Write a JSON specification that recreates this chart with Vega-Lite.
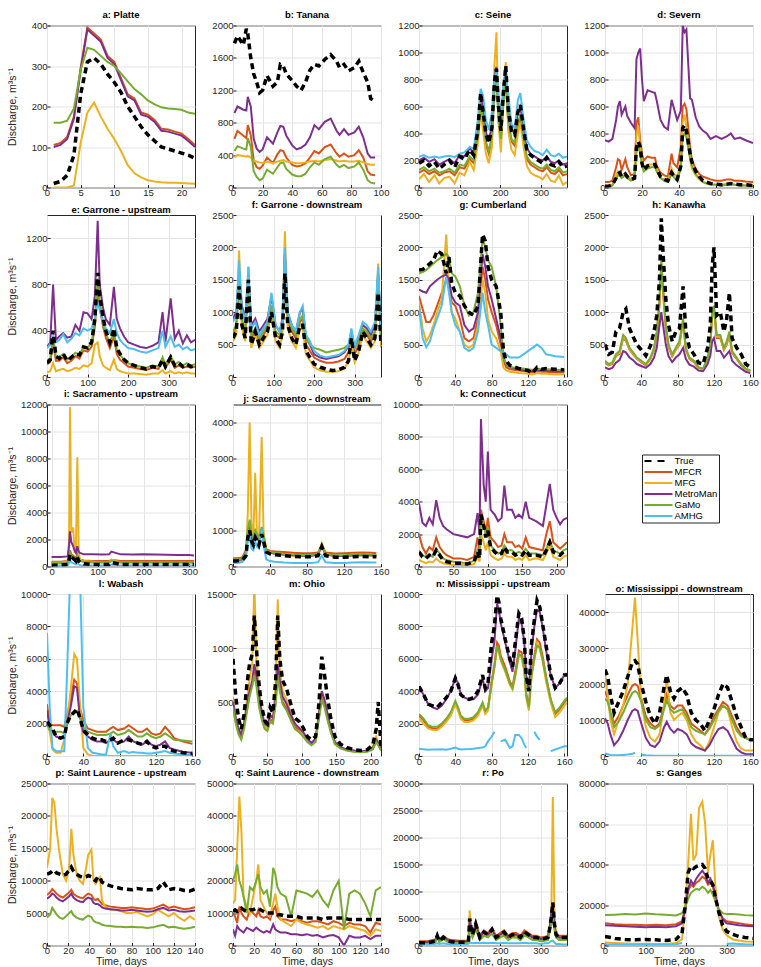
{
  "$schema": "https://vega.github.io/schema/vega-lite/v6.json",
  "padding": {"left": 6, "top": 9.5, "right": 4, "bottom": 2},
  "background": "white",
  "data": {"values": [
    {"p":"a","t":1,"T":10,"C":105,"G":0,"M":100,"O":160},
    {"p":"a","t":2,"T":15,"C":110,"G":0,"M":105,"O":160},
    {"p":"a","t":3,"T":30,"C":125,"G":0,"M":120,"O":165},
    {"p":"a","t":4,"T":80,"C":175,"G":5,"M":170,"O":195},
    {"p":"a","t":5,"T":230,"C":295,"G":110,"M":290,"O":290},
    {"p":"a","t":6,"T":310,"C":395,"G":185,"M":390,"O":345},
    {"p":"a","t":7,"T":320,"C":380,"G":210,"M":375,"O":340},
    {"p":"a","t":8,"T":305,"C":365,"G":175,"M":360,"O":325},
    {"p":"a","t":9,"T":280,"C":325,"G":145,"M":320,"O":310},
    {"p":"a","t":10,"T":260,"C":310,"G":120,"M":305,"O":300},
    {"p":"a","t":11,"T":235,"C":270,"G":90,"M":265,"O":282},
    {"p":"a","t":12,"T":200,"C":230,"G":55,"M":225,"O":262},
    {"p":"a","t":13,"T":175,"C":220,"G":35,"M":215,"O":243},
    {"p":"a","t":14,"T":150,"C":185,"G":25,"M":180,"O":230},
    {"p":"a","t":15,"T":130,"C":180,"G":18,"M":175,"O":215},
    {"p":"a","t":16,"T":115,"C":167,"G":15,"M":162,"O":205},
    {"p":"a","t":17,"T":100,"C":145,"G":13,"M":140,"O":198},
    {"p":"a","t":18,"T":95,"C":143,"G":12,"M":138,"O":195},
    {"p":"a","t":19,"T":90,"C":138,"G":12,"M":133,"O":194},
    {"p":"a","t":20,"T":85,"C":133,"G":11,"M":128,"O":192},
    {"p":"a","t":21,"T":80,"C":120,"G":10,"M":115,"O":185},
    {"p":"a","t":22,"T":72,"C":105,"G":9,"M":100,"O":182},

    {"p":"b","t":1,"T":1780,"C":600,"G":370,"M":920,"O":450},
    {"p":"b","t":3,"T":1870,"C":700,"G":400,"M":1000,"O":510},
    {"p":"b","t":7,"T":1760,"C":640,"G":390,"M":960,"O":480},
    {"p":"b","t":9,"T":1960,"C":610,"G":380,"M":950,"O":470},
    {"p":"b","t":10,"T":1900,"C":770,"G":390,"M":1120,"O":610},
    {"p":"b","t":12,"T":1600,"C":650,"G":370,"M":1000,"O":500},
    {"p":"b","t":14,"T":1400,"C":330,"G":330,"M":600,"O":200},
    {"p":"b","t":16,"T":1300,"C":250,"G":320,"M":480,"O":130},
    {"p":"b","t":18,"T":1170,"C":230,"G":310,"M":440,"O":90},
    {"p":"b","t":20,"T":1200,"C":270,"G":300,"M":470,"O":110},
    {"p":"b","t":23,"T":1380,"C":370,"G":320,"M":620,"O":220},
    {"p":"b","t":27,"T":1250,"C":300,"G":300,"M":540,"O":170},
    {"p":"b","t":30,"T":1300,"C":410,"G":320,"M":680,"O":250},
    {"p":"b","t":32,"T":1520,"C":460,"G":330,"M":760,"O":300},
    {"p":"b","t":34,"T":1500,"C":450,"G":340,"M":750,"O":310},
    {"p":"b","t":36,"T":1400,"C":370,"G":320,"M":640,"O":230},
    {"p":"b","t":40,"T":1320,"C":280,"G":310,"M":520,"O":160},
    {"p":"b","t":43,"T":1250,"C":260,"G":300,"M":470,"O":140},
    {"p":"b","t":46,"T":1200,"C":270,"G":300,"M":490,"O":140},
    {"p":"b","t":49,"T":1300,"C":300,"G":310,"M":530,"O":170},
    {"p":"b","t":52,"T":1450,"C":370,"G":320,"M":620,"O":250},
    {"p":"b","t":55,"T":1520,"C":450,"G":330,"M":770,"O":310},
    {"p":"b","t":58,"T":1500,"C":420,"G":320,"M":720,"O":280},
    {"p":"b","t":62,"T":1580,"C":500,"G":340,"M":810,"O":350},
    {"p":"b","t":66,"T":1640,"C":530,"G":350,"M":850,"O":380},
    {"p":"b","t":70,"T":1560,"C":420,"G":330,"M":700,"O":280},
    {"p":"b","t":72,"T":1480,"C":380,"G":320,"M":650,"O":250},
    {"p":"b","t":75,"T":1520,"C":420,"G":330,"M":720,"O":280},
    {"p":"b","t":78,"T":1440,"C":380,"G":320,"M":650,"O":240},
    {"p":"b","t":82,"T":1480,"C":400,"G":320,"M":680,"O":260},
    {"p":"b","t":85,"T":1560,"C":460,"G":330,"M":750,"O":310},
    {"p":"b","t":88,"T":1420,"C":370,"G":310,"M":620,"O":220},
    {"p":"b","t":91,"T":1300,"C":200,"G":290,"M":420,"O":90},
    {"p":"b","t":93,"T":1100,"C":160,"G":280,"M":370,"O":60},
    {"p":"b","t":96,"T":1060,"C":150,"G":280,"M":370,"O":50},

    {"p":"c","t":0,"T":180,"C":110,"G":60,"M":200,"O":130,"A":230},
    {"p":"c","t":12,"T":200,"C":130,"G":100,"M":220,"O":150,"A":240},
    {"p":"c","t":25,"T":160,"C":100,"G":40,"M":190,"O":120,"A":220},
    {"p":"c","t":38,"T":190,"C":120,"G":90,"M":210,"O":140,"A":230},
    {"p":"c","t":50,"T":140,"C":90,"G":30,"M":170,"O":110,"A":220},
    {"p":"c","t":62,"T":170,"C":110,"G":70,"M":190,"O":120,"A":230},
    {"p":"c","t":75,"T":200,"C":120,"G":80,"M":210,"O":140,"A":235},
    {"p":"c","t":88,"T":150,"C":90,"G":30,"M":180,"O":110,"A":225},
    {"p":"c","t":100,"T":230,"C":150,"G":110,"M":240,"O":170,"A":250},
    {"p":"c","t":112,"T":210,"C":140,"G":90,"M":230,"O":160,"A":260},
    {"p":"c","t":125,"T":280,"C":210,"G":190,"M":290,"O":230,"A":300},
    {"p":"c","t":135,"T":240,"C":180,"G":130,"M":260,"O":200,"A":290},
    {"p":"c","t":145,"T":420,"C":360,"G":320,"M":440,"O":380,"A":500},
    {"p":"c","t":152,"T":700,"C":600,"G":560,"M":700,"O":620,"A":730},
    {"p":"c","t":158,"T":560,"C":480,"G":420,"M":580,"O":500,"A":680},
    {"p":"c","t":165,"T":400,"C":320,"G":250,"M":410,"O":340,"A":500},
    {"p":"c","t":172,"T":330,"C":250,"G":180,"M":340,"O":270,"A":430},
    {"p":"c","t":180,"T":450,"C":360,"G":300,"M":460,"O":380,"A":560},
    {"p":"c","t":186,"T":780,"C":780,"G":900,"M":820,"O":700,"A":800},
    {"p":"c","t":191,"T":880,"C":900,"G":1150,"M":890,"O":780,"A":870},
    {"p":"c","t":196,"T":600,"C":500,"G":480,"M":620,"O":520,"A":700},
    {"p":"c","t":202,"T":420,"C":340,"G":260,"M":430,"O":360,"A":540},
    {"p":"c","t":208,"T":700,"C":650,"G":700,"M":700,"O":620,"A":760},
    {"p":"c","t":214,"T":900,"C":820,"G":930,"M":900,"O":800,"A":850},
    {"p":"c","t":220,"T":580,"C":480,"G":420,"M":600,"O":500,"A":700},
    {"p":"c","t":228,"T":420,"C":340,"G":280,"M":430,"O":360,"A":470},
    {"p":"c","t":236,"T":390,"C":310,"G":240,"M":400,"O":330,"A":440},
    {"p":"c","t":244,"T":560,"C":460,"G":400,"M":560,"O":480,"A":650},
    {"p":"c","t":250,"T":610,"C":520,"G":480,"M":600,"O":540,"A":700},
    {"p":"c","t":258,"T":430,"C":350,"G":300,"M":430,"O":370,"A":500},
    {"p":"c","t":266,"T":280,"C":210,"G":160,"M":290,"O":230,"A":350},
    {"p":"c","t":275,"T":240,"C":170,"G":110,"M":250,"O":190,"A":300},
    {"p":"c","t":285,"T":220,"C":150,"G":90,"M":230,"O":170,"A":270},
    {"p":"c","t":295,"T":200,"C":130,"G":80,"M":210,"O":150,"A":260},
    {"p":"c","t":305,"T":180,"C":120,"G":60,"M":200,"O":140,"A":240},
    {"p":"c","t":315,"T":220,"C":150,"G":100,"M":230,"O":170,"A":280},
    {"p":"c","t":325,"T":170,"C":110,"G":50,"M":190,"O":130,"A":240},
    {"p":"c","t":335,"T":160,"C":100,"G":40,"M":180,"O":120,"A":230},
    {"p":"c","t":345,"T":190,"C":130,"G":90,"M":200,"O":150,"A":250},
    {"p":"c","t":355,"T":150,"C":90,"G":20,"M":170,"O":110,"A":220},
    {"p":"c","t":365,"T":160,"C":100,"G":40,"M":180,"O":120,"A":230},

    {"p":"d","t":0,"T":10,"C":40,"G":10,"M":350,"O":5},
    {"p":"d","t":2,"T":10,"C":40,"G":10,"M":340,"O":5},
    {"p":"d","t":4,"T":20,"C":50,"G":20,"M":360,"O":15},
    {"p":"d","t":6,"T":70,"C":150,"G":90,"M":500,"O":60},
    {"p":"d","t":7,"T":100,"C":210,"G":120,"M":600,"O":90},
    {"p":"d","t":8,"T":110,"C":200,"G":110,"M":640,"O":90},
    {"p":"d","t":9,"T":80,"C":130,"G":80,"M":540,"O":70},
    {"p":"d","t":11,"T":100,"C":210,"G":110,"M":600,"O":90},
    {"p":"d","t":12,"T":80,"C":150,"G":90,"M":530,"O":70},
    {"p":"d","t":14,"T":60,"C":90,"G":60,"M":480,"O":50},
    {"p":"d","t":16,"T":70,"C":100,"G":70,"M":440,"O":60},
    {"p":"d","t":17,"T":300,"C":480,"G":380,"M":950,"O":260},
    {"p":"d","t":18,"T":340,"C":520,"G":460,"M":1000,"O":300},
    {"p":"d","t":19,"T":300,"C":350,"G":300,"M":1030,"O":260},
    {"p":"d","t":20,"T":180,"C":250,"G":190,"M":800,"O":160},
    {"p":"d","t":21,"T":130,"C":200,"G":150,"M":640,"O":120},
    {"p":"d","t":23,"T":160,"C":230,"G":170,"M":720,"O":140},
    {"p":"d","t":25,"T":170,"C":220,"G":170,"M":710,"O":150},
    {"p":"d","t":27,"T":170,"C":220,"G":170,"M":700,"O":150},
    {"p":"d","t":28,"T":140,"C":160,"G":120,"M":640,"O":120},
    {"p":"d","t":30,"T":80,"C":110,"G":70,"M":500,"O":70},
    {"p":"d","t":32,"T":60,"C":90,"G":60,"M":450,"O":50},
    {"p":"d","t":34,"T":50,"C":80,"G":50,"M":430,"O":40},
    {"p":"d","t":36,"T":110,"C":250,"G":140,"M":650,"O":100},
    {"p":"d","t":37,"T":90,"C":180,"G":100,"M":600,"O":80},
    {"p":"d","t":39,"T":60,"C":150,"G":80,"M":500,"O":50},
    {"p":"d","t":41,"T":160,"C":300,"G":180,"M":570,"O":140},
    {"p":"d","t":42,"T":440,"C":600,"G":480,"M":1200,"O":380},
    {"p":"d","t":43,"T":460,"C":620,"G":540,"M":1150,"O":400},
    {"p":"d","t":44,"T":420,"C":580,"G":450,"M":1170,"O":370},
    {"p":"d","t":46,"T":250,"C":300,"G":200,"M":660,"O":220},
    {"p":"d","t":47,"T":190,"C":200,"G":140,"M":650,"O":160},
    {"p":"d","t":49,"T":120,"C":140,"G":90,"M":520,"O":100},
    {"p":"d","t":51,"T":80,"C":100,"G":60,"M":450,"O":70},
    {"p":"d","t":53,"T":50,"C":80,"G":40,"M":420,"O":40},
    {"p":"d","t":55,"T":40,"C":70,"G":30,"M":400,"O":30},
    {"p":"d","t":57,"T":30,"C":60,"G":20,"M":360,"O":25},
    {"p":"d","t":60,"T":25,"C":50,"G":20,"M":380,"O":20},
    {"p":"d","t":63,"T":20,"C":50,"G":20,"M":360,"O":15},
    {"p":"d","t":66,"T":25,"C":60,"G":30,"M":380,"O":20},
    {"p":"d","t":68,"T":30,"C":60,"G":30,"M":400,"O":25},
    {"p":"d","t":70,"T":25,"C":50,"G":20,"M":360,"O":20},
    {"p":"d","t":73,"T":20,"C":50,"G":20,"M":370,"O":15},
    {"p":"d","t":76,"T":20,"C":45,"G":15,"M":350,"O":15},
    {"p":"d","t":80,"T":15,"C":40,"G":15,"M":330,"O":10},

    {"p":"e","t":0,"T":120,"C":110,"G":40,"M":260,"O":140,"A":250},
    {"p":"e","t":8,"T":150,"C":130,"G":50,"M":300,"O":160,"A":280},
    {"p":"e","t":15,"T":400,"C":300,"G":120,"M":800,"O":350,"A":350},
    {"p":"e","t":22,"T":180,"C":140,"G":50,"M":320,"O":170,"A":300},
    {"p":"e","t":30,"T":160,"C":140,"G":60,"M":350,"O":170,"A":320},
    {"p":"e","t":40,"T":200,"C":170,"G":70,"M":380,"O":200,"A":370},
    {"p":"e","t":50,"T":140,"C":120,"G":50,"M":340,"O":150,"A":300},
    {"p":"e","t":60,"T":170,"C":140,"G":60,"M":350,"O":170,"A":330},
    {"p":"e","t":70,"T":200,"C":180,"G":80,"M":450,"O":210,"A":380},
    {"p":"e","t":80,"T":190,"C":160,"G":70,"M":400,"O":190,"A":360},
    {"p":"e","t":90,"T":260,"C":230,"G":100,"M":560,"O":260,"A":420},
    {"p":"e","t":100,"T":250,"C":220,"G":90,"M":550,"O":250,"A":400},
    {"p":"e","t":110,"T":300,"C":260,"G":120,"M":500,"O":300,"A":420},
    {"p":"e","t":118,"T":500,"C":430,"G":280,"M":700,"O":480,"A":500},
    {"p":"e","t":125,"T":900,"C":780,"G":300,"M":1350,"O":850,"A":650},
    {"p":"e","t":130,"T":700,"C":600,"G":180,"M":800,"O":650,"A":580},
    {"p":"e","t":138,"T":520,"C":440,"G":100,"M":600,"O":480,"A":480},
    {"p":"e","t":145,"T":400,"C":340,"G":80,"M":500,"O":380,"A":420},
    {"p":"e","t":155,"T":300,"C":250,"G":60,"M":450,"O":290,"A":380},
    {"p":"e","t":165,"T":420,"C":350,"G":150,"M":780,"O":400,"A":500},
    {"p":"e","t":172,"T":250,"C":200,"G":70,"M":500,"O":240,"A":380},
    {"p":"e","t":180,"T":200,"C":150,"G":50,"M":420,"O":190,"A":320},
    {"p":"e","t":190,"T":150,"C":120,"G":40,"M":350,"O":150,"A":280},
    {"p":"e","t":200,"T":120,"C":90,"G":30,"M":300,"O":120,"A":250},
    {"p":"e","t":215,"T":100,"C":80,"G":30,"M":280,"O":100,"A":240},
    {"p":"e","t":230,"T":80,"C":70,"G":25,"M":260,"O":90,"A":220},
    {"p":"e","t":245,"T":70,"C":60,"G":20,"M":250,"O":80,"A":210},
    {"p":"e","t":260,"T":90,"C":80,"G":30,"M":270,"O":100,"A":230},
    {"p":"e","t":275,"T":80,"C":70,"G":30,"M":300,"O":90,"A":250},
    {"p":"e","t":285,"T":150,"C":140,"G":60,"M":560,"O":170,"A":400},
    {"p":"e","t":292,"T":90,"C":80,"G":30,"M":300,"O":100,"A":260},
    {"p":"e","t":305,"T":170,"C":150,"G":50,"M":680,"O":180,"A":350},
    {"p":"e","t":315,"T":100,"C":80,"G":30,"M":330,"O":110,"A":260},
    {"p":"e","t":325,"T":120,"C":100,"G":40,"M":400,"O":130,"A":280},
    {"p":"e","t":335,"T":90,"C":80,"G":30,"M":290,"O":100,"A":240},
    {"p":"e","t":345,"T":110,"C":90,"G":40,"M":360,"O":120,"A":260},
    {"p":"e","t":355,"T":90,"C":80,"G":30,"M":300,"O":100,"A":230},
    {"p":"e","t":365,"T":100,"C":90,"G":30,"M":320,"O":110,"A":240},

    {"p":"f","t":0,"T":600,"C":650,"G":550,"M":900,"O":700,"A":850},
    {"p":"f","t":8,"T":700,"C":750,"G":650,"M":1000,"O":800,"A":950},
    {"p":"f","t":15,"T":1400,"C":1450,"G":1950,"M":1600,"O":1500,"A":1800},
    {"p":"f","t":22,"T":800,"C":850,"G":750,"M":1100,"O":900,"A":1050},
    {"p":"f","t":30,"T":600,"C":650,"G":550,"M":900,"O":700,"A":850},
    {"p":"f","t":38,"T":1500,"C":1450,"G":1700,"M":1600,"O":1500,"A":1700},
    {"p":"f","t":45,"T":500,"C":600,"G":450,"M":800,"O":650,"A":750},
    {"p":"f","t":55,"T":700,"C":700,"G":650,"M":900,"O":750,"A":850},
    {"p":"f","t":65,"T":500,"C":550,"G":450,"M":700,"O":600,"A":650},
    {"p":"f","t":75,"T":600,"C":650,"G":550,"M":800,"O":700,"A":750},
    {"p":"f","t":85,"T":700,"C":750,"G":650,"M":900,"O":800,"A":850},
    {"p":"f","t":95,"T":1000,"C":1050,"G":1100,"M":1250,"O":1100,"A":1300},
    {"p":"f","t":105,"T":600,"C":650,"G":550,"M":800,"O":700,"A":800},
    {"p":"f","t":115,"T":500,"C":600,"G":450,"M":700,"O":650,"A":700},
    {"p":"f","t":122,"T":700,"C":750,"G":650,"M":900,"O":800,"A":850},
    {"p":"f","t":128,"T":1600,"C":1750,"G":2250,"M":1900,"O":1800,"A":2000},
    {"p":"f","t":135,"T":800,"C":850,"G":750,"M":1000,"O":900,"A":1000},
    {"p":"f","t":145,"T":600,"C":700,"G":550,"M":800,"O":750,"A":800},
    {"p":"f","t":155,"T":500,"C":600,"G":450,"M":700,"O":650,"A":700},
    {"p":"f","t":165,"T":800,"C":850,"G":750,"M":1000,"O":900,"A":1000},
    {"p":"f","t":172,"T":800,"C":900,"G":750,"M":1050,"O":950,"A":1100},
    {"p":"f","t":180,"T":400,"C":500,"G":350,"M":600,"O":600,"A":650},
    {"p":"f","t":190,"T":300,"C":400,"G":250,"M":500,"O":500,"A":550},
    {"p":"f","t":200,"T":200,"C":300,"G":150,"M":350,"O":450,"A":400},
    {"p":"f","t":215,"T":150,"C":250,"G":100,"M":300,"O":420,"A":330},
    {"p":"f","t":230,"T":120,"C":220,"G":80,"M":280,"O":380,"A":300},
    {"p":"f","t":245,"T":100,"C":220,"G":80,"M":300,"O":400,"A":320},
    {"p":"f","t":260,"T":110,"C":240,"G":90,"M":320,"O":420,"A":340},
    {"p":"f","t":275,"T":150,"C":280,"G":130,"M":380,"O":450,"A":400},
    {"p":"f","t":285,"T":250,"C":380,"G":250,"M":480,"O":500,"A":500},
    {"p":"f","t":292,"T":600,"C":620,"G":550,"M":700,"O":650,"A":750},
    {"p":"f","t":300,"T":250,"C":350,"G":230,"M":450,"O":450,"A":480},
    {"p":"f","t":310,"T":400,"C":500,"G":380,"M":600,"O":550,"A":650},
    {"p":"f","t":320,"T":700,"C":720,"G":650,"M":800,"O":750,"A":850},
    {"p":"f","t":330,"T":600,"C":650,"G":550,"M":750,"O":700,"A":800},
    {"p":"f","t":340,"T":500,"C":550,"G":450,"M":650,"O":600,"A":700},
    {"p":"f","t":350,"T":600,"C":650,"G":550,"M":800,"O":700,"A":850},
    {"p":"f","t":358,"T":1300,"C":1450,"G":1750,"M":1600,"O":1500,"A":1700},
    {"p":"f","t":365,"T":500,"C":600,"G":450,"M":700,"O":650,"A":750},

    {"p":"g","t":0,"T":1650,"C":1250,"G":1150,"M":1350,"O":1600,"A":1100},
    {"p":"g","t":4,"T":1660,"C":1050,"G":750,"M":1320,"O":1620,"A":600},
    {"p":"g","t":8,"T":1700,"C":850,"G":550,"M":1300,"O":1650,"A":460},
    {"p":"g","t":12,"T":1750,"C":850,"G":650,"M":1400,"O":1700,"A":550},
    {"p":"g","t":16,"T":1800,"C":950,"G":800,"M":1450,"O":1750,"A":750},
    {"p":"g","t":20,"T":1950,"C":1100,"G":1000,"M":1500,"O":1800,"A":900},
    {"p":"g","t":25,"T":1900,"C":1300,"G":1200,"M":1550,"O":1850,"A":1100},
    {"p":"g","t":30,"T":1600,"C":1500,"G":2200,"M":1580,"O":1900,"A":1550},
    {"p":"g","t":33,"T":1850,"C":1450,"G":1400,"M":1500,"O":1850,"A":1300},
    {"p":"g","t":36,"T":1450,"C":1150,"G":1000,"M":1250,"O":1600,"A":1000},
    {"p":"g","t":40,"T":1300,"C":1100,"G":900,"M":1150,"O":1550,"A":800},
    {"p":"g","t":45,"T":1250,"C":900,"G":700,"M":1100,"O":1400,"A":700},
    {"p":"g","t":50,"T":1100,"C":600,"G":500,"M":800,"O":1100,"A":450},
    {"p":"g","t":55,"T":1000,"C":550,"G":450,"M":700,"O":950,"A":400},
    {"p":"g","t":60,"T":950,"C":600,"G":500,"M":750,"O":1000,"A":450},
    {"p":"g","t":65,"T":1100,"C":900,"G":800,"M":1000,"O":1300,"A":700},
    {"p":"g","t":70,"T":2200,"C":1700,"G":1500,"M":1900,"O":2150,"A":1300},
    {"p":"g","t":73,"T":2100,"C":1500,"G":1300,"M":1700,"O":2000,"A":1000},
    {"p":"g","t":76,"T":1700,"C":1200,"G":900,"M":1400,"O":1800,"A":800},
    {"p":"g","t":80,"T":1500,"C":1000,"G":700,"M":1200,"O":1700,"A":500},
    {"p":"g","t":85,"T":1400,"C":800,"G":600,"M":900,"O":1400,"A":450},
    {"p":"g","t":90,"T":1000,"C":500,"G":400,"M":600,"O":800,"A":400},
    {"p":"g","t":93,"T":400,"C":250,"G":150,"M":300,"O":300,"A":380},
    {"p":"g","t":96,"T":250,"C":150,"G":100,"M":200,"O":200,"A":350},
    {"p":"g","t":100,"T":180,"C":120,"G":80,"M":150,"O":150,"A":300},
    {"p":"g","t":110,"T":130,"C":100,"G":60,"M":120,"O":140,"A":300},
    {"p":"g","t":120,"T":100,"C":80,"G":50,"M":100,"O":120,"A":400},
    {"p":"g","t":125,"T":60,"C":70,"G":40,"M":90,"O":110,"A":450},
    {"p":"g","t":130,"T":150,"C":90,"G":60,"M":110,"O":130,"A":500},
    {"p":"g","t":135,"T":120,"C":80,"G":50,"M":100,"O":120,"A":450},
    {"p":"g","t":140,"T":130,"C":80,"G":50,"M":100,"O":120,"A":350},
    {"p":"g","t":150,"T":120,"C":70,"G":40,"M":90,"O":110,"A":320},
    {"p":"g","t":160,"T":110,"C":70,"G":40,"M":90,"O":100,"A":310},

    {"p":"h","t":0,"T":500,"C":220,"G":230,"M":150,"O":250},
    {"p":"h","t":4,"T":350,"C":180,"G":190,"M":120,"O":200},
    {"p":"h","t":8,"T":380,"C":200,"G":210,"M":140,"O":220},
    {"p":"h","t":12,"T":700,"C":320,"G":330,"M":220,"O":350},
    {"p":"h","t":16,"T":750,"C":360,"G":380,"M":260,"O":400},
    {"p":"h","t":20,"T":1000,"C":600,"G":620,"M":400,"O":650},
    {"p":"h","t":23,"T":1050,"C":560,"G":580,"M":380,"O":600},
    {"p":"h","t":27,"T":750,"C":420,"G":430,"M":300,"O":450},
    {"p":"h","t":31,"T":620,"C":350,"G":360,"M":260,"O":380},
    {"p":"h","t":35,"T":500,"C":280,"G":290,"M":200,"O":300},
    {"p":"h","t":40,"T":420,"C":230,"G":240,"M":170,"O":250},
    {"p":"h","t":45,"T":330,"C":180,"G":190,"M":140,"O":200},
    {"p":"h","t":50,"T":480,"C":280,"G":290,"M":200,"O":300},
    {"p":"h","t":54,"T":700,"C":420,"G":430,"M":300,"O":450},
    {"p":"h","t":57,"T":950,"C":650,"G":680,"M":450,"O":700},
    {"p":"h","t":60,"T":1500,"C":1100,"G":1150,"M":800,"O":1200},
    {"p":"h","t":62,"T":2450,"C":1700,"G":1750,"M":1000,"O":1800},
    {"p":"h","t":64,"T":1900,"C":1300,"G":1350,"M":800,"O":1400},
    {"p":"h","t":67,"T":1200,"C":750,"G":780,"M":500,"O":800},
    {"p":"h","t":70,"T":800,"C":460,"G":480,"M":320,"O":500},
    {"p":"h","t":74,"T":550,"C":320,"G":330,"M":230,"O":350},
    {"p":"h","t":78,"T":700,"C":420,"G":430,"M":300,"O":450},
    {"p":"h","t":82,"T":750,"C":500,"G":520,"M":350,"O":550},
    {"p":"h","t":86,"T":1400,"C":850,"G":870,"M":450,"O":900},
    {"p":"h","t":89,"T":700,"C":420,"G":430,"M":280,"O":450},
    {"p":"h","t":93,"T":450,"C":280,"G":290,"M":190,"O":300},
    {"p":"h","t":98,"T":350,"C":230,"G":240,"M":160,"O":250},
    {"p":"h","t":103,"T":220,"C":140,"G":140,"M":100,"O":150},
    {"p":"h","t":108,"T":200,"C":120,"G":120,"M":90,"O":130},
    {"p":"h","t":113,"T":450,"C":280,"G":290,"M":200,"O":300},
    {"p":"h","t":116,"T":800,"C":470,"G":480,"M":330,"O":500},
    {"p":"h","t":118,"T":1700,"C":950,"G":980,"M":550,"O":1000},
    {"p":"h","t":120,"T":2000,"C":1050,"G":1080,"M":600,"O":1100},
    {"p":"h","t":123,"T":950,"C":600,"G":620,"M":400,"O":650},
    {"p":"h","t":127,"T":1000,"C":600,"G":620,"M":400,"O":650},
    {"p":"h","t":131,"T":700,"C":420,"G":430,"M":300,"O":450},
    {"p":"h","t":134,"T":900,"C":500,"G":520,"M":350,"O":550},
    {"p":"h","t":137,"T":1300,"C":650,"G":680,"M":400,"O":700},
    {"p":"h","t":140,"T":600,"C":370,"G":380,"M":250,"O":400},
    {"p":"h","t":145,"T":450,"C":280,"G":290,"M":180,"O":300},
    {"p":"h","t":150,"T":350,"C":180,"G":190,"M":130,"O":200},
    {"p":"h","t":155,"T":200,"C":120,"G":120,"M":80,"O":130},
    {"p":"h","t":160,"T":150,"C":90,"G":90,"M":60,"O":100},

    {"p":"i","t":0,"T":100,"C":350,"G":300,"M":700,"O":250,"A":50},
    {"p":"i","t":20,"T":100,"C":350,"G":300,"M":700,"O":250,"A":50},
    {"p":"i","t":35,"T":150,"C":400,"G":350,"M":750,"O":300,"A":80},
    {"p":"i","t":38,"T":500,"C":700,"G":2000,"M":1500,"O":600,"A":300},
    {"p":"i","t":40,"T":900,"C":1200,"G":11800,"M":2600,"O":1000,"A":500},
    {"p":"i","t":43,"T":700,"C":900,"G":2500,"M":1800,"O":800,"A":300},
    {"p":"i","t":47,"T":600,"C":800,"G":2900,"M":1500,"O":700,"A":250},
    {"p":"i","t":50,"T":500,"C":700,"G":1000,"M":1200,"O":600,"A":200},
    {"p":"i","t":53,"T":400,"C":600,"G":1500,"M":1000,"O":500,"A":150},
    {"p":"i","t":56,"T":700,"C":900,"G":8100,"M":1500,"O":800,"A":300},
    {"p":"i","t":59,"T":400,"C":600,"G":1000,"M":1100,"O":500,"A":150},
    {"p":"i","t":62,"T":300,"C":500,"G":500,"M":1000,"O":400,"A":100},
    {"p":"i","t":70,"T":200,"C":450,"G":400,"M":900,"O":350,"A":80},
    {"p":"i","t":90,"T":150,"C":400,"G":350,"M":900,"O":300,"A":80},
    {"p":"i","t":110,"T":150,"C":400,"G":300,"M":880,"O":300,"A":80},
    {"p":"i","t":125,"T":150,"C":400,"G":300,"M":900,"O":300,"A":80},
    {"p":"i","t":130,"T":300,"C":500,"G":500,"M":1100,"O":400,"A":150},
    {"p":"i","t":150,"T":150,"C":400,"G":300,"M":900,"O":300,"A":80},
    {"p":"i","t":175,"T":150,"C":400,"G":300,"M":880,"O":300,"A":80},
    {"p":"i","t":200,"T":150,"C":400,"G":300,"M":900,"O":300,"A":80},
    {"p":"i","t":225,"T":150,"C":400,"G":300,"M":880,"O":300,"A":80},
    {"p":"i","t":250,"T":150,"C":400,"G":300,"M":870,"O":300,"A":80},
    {"p":"i","t":275,"T":150,"C":400,"G":300,"M":860,"O":300,"A":80},
    {"p":"i","t":300,"T":150,"C":400,"G":300,"M":850,"O":300,"A":80},
    {"p":"i","t":310,"T":150,"C":400,"G":300,"M":820,"O":300,"A":80},

    {"p":"j","t":0,"T":150,"C":230,"G":150,"M":180,"O":200,"A":100},
    {"p":"j","t":5,"T":160,"C":230,"G":150,"M":180,"O":200,"A":100},
    {"p":"j","t":10,"T":180,"C":250,"G":150,"M":200,"O":220,"A":120},
    {"p":"j","t":14,"T":300,"C":450,"G":300,"M":350,"O":400,"A":250},
    {"p":"j","t":16,"T":800,"C":1000,"G":1500,"M":900,"O":1000,"A":700},
    {"p":"j","t":18,"T":1000,"C":1200,"G":4000,"M":1100,"O":1300,"A":900},
    {"p":"j","t":20,"T":700,"C":900,"G":1200,"M":800,"O":900,"A":500},
    {"p":"j","t":22,"T":600,"C":800,"G":800,"M":700,"O":800,"A":450},
    {"p":"j","t":24,"T":800,"C":1000,"G":2600,"M":900,"O":1000,"A":700},
    {"p":"j","t":26,"T":700,"C":900,"G":800,"M":800,"O":900,"A":550},
    {"p":"j","t":28,"T":600,"C":800,"G":700,"M":700,"O":800,"A":500},
    {"p":"j","t":31,"T":900,"C":1000,"G":3600,"M":1000,"O":1100,"A":1050},
    {"p":"j","t":33,"T":700,"C":850,"G":1000,"M":800,"O":850,"A":600},
    {"p":"j","t":36,"T":400,"C":480,"G":400,"M":420,"O":450,"A":200},
    {"p":"j","t":40,"T":350,"C":430,"G":400,"M":380,"O":400,"A":150},
    {"p":"j","t":45,"T":330,"C":420,"G":350,"M":360,"O":380,"A":130},
    {"p":"j","t":55,"T":300,"C":400,"G":320,"M":330,"O":350,"A":110},
    {"p":"j","t":65,"T":280,"C":380,"G":300,"M":310,"O":330,"A":100},
    {"p":"j","t":75,"T":270,"C":370,"G":300,"M":300,"O":320,"A":100},
    {"p":"j","t":85,"T":270,"C":370,"G":300,"M":300,"O":320,"A":100},
    {"p":"j","t":92,"T":300,"C":390,"G":350,"M":330,"O":350,"A":120},
    {"p":"j","t":96,"T":550,"C":600,"G":650,"M":570,"O":600,"A":300},
    {"p":"j","t":100,"T":300,"C":390,"G":350,"M":330,"O":350,"A":120},
    {"p":"j","t":110,"T":260,"C":360,"G":300,"M":290,"O":310,"A":100},
    {"p":"j","t":120,"T":260,"C":370,"G":300,"M":290,"O":310,"A":100},
    {"p":"j","t":130,"T":270,"C":380,"G":300,"M":310,"O":330,"A":110},
    {"p":"j","t":140,"T":280,"C":390,"G":320,"M":320,"O":340,"A":120},
    {"p":"j","t":150,"T":270,"C":380,"G":300,"M":310,"O":330,"A":110},
    {"p":"j","t":155,"T":270,"C":370,"G":300,"M":300,"O":320,"A":110},

    {"p":"k","t":0,"T":900,"C":2000,"G":400,"M":3900,"O":1000},
    {"p":"k","t":5,"T":600,"C":1200,"G":300,"M":2700,"O":700},
    {"p":"k","t":10,"T":500,"C":800,"G":200,"M":2500,"O":600},
    {"p":"k","t":15,"T":700,"C":1200,"G":300,"M":3000,"O":700},
    {"p":"k","t":20,"T":600,"C":1000,"G":250,"M":2600,"O":600},
    {"p":"k","t":25,"T":1000,"C":1800,"G":500,"M":4100,"O":1100},
    {"p":"k","t":30,"T":700,"C":1200,"G":300,"M":3000,"O":800},
    {"p":"k","t":35,"T":400,"C":900,"G":200,"M":2500,"O":500},
    {"p":"k","t":40,"T":300,"C":700,"G":150,"M":2300,"O":400},
    {"p":"k","t":50,"T":200,"C":500,"G":100,"M":2000,"O":300},
    {"p":"k","t":60,"T":200,"C":500,"G":100,"M":1900,"O":250},
    {"p":"k","t":70,"T":150,"C":400,"G":80,"M":1800,"O":200},
    {"p":"k","t":80,"T":300,"C":600,"G":150,"M":2000,"O":350},
    {"p":"k","t":85,"T":900,"C":1800,"G":600,"M":3300,"O":1000},
    {"p":"k","t":88,"T":500,"C":900,"G":300,"M":2000,"O":600},
    {"p":"k","t":90,"T":3200,"C":3500,"G":2000,"M":9100,"O":3000},
    {"p":"k","t":94,"T":2500,"C":2800,"G":1500,"M":5000,"O":2600},
    {"p":"k","t":97,"T":1800,"C":2000,"G":1000,"M":4000,"O":2000},
    {"p":"k","t":100,"T":2200,"C":3000,"G":1500,"M":7100,"O":2400},
    {"p":"k","t":104,"T":1200,"C":1800,"G":700,"M":3500,"O":1300},
    {"p":"k","t":110,"T":900,"C":1500,"G":500,"M":3200,"O":1000},
    {"p":"k","t":115,"T":700,"C":1200,"G":400,"M":2800,"O":800},
    {"p":"k","t":120,"T":800,"C":1300,"G":500,"M":3000,"O":900},
    {"p":"k","t":124,"T":1200,"C":2000,"G":800,"M":5000,"O":1300},
    {"p":"k","t":128,"T":900,"C":1500,"G":600,"M":3500,"O":1000},
    {"p":"k","t":135,"T":900,"C":1500,"G":600,"M":3500,"O":1000},
    {"p":"k","t":140,"T":700,"C":1200,"G":400,"M":3000,"O":800},
    {"p":"k","t":145,"T":800,"C":1300,"G":500,"M":3200,"O":900},
    {"p":"k","t":150,"T":700,"C":1100,"G":400,"M":3000,"O":800},
    {"p":"k","t":155,"T":1000,"C":1800,"G":700,"M":4000,"O":1100},
    {"p":"k","t":160,"T":700,"C":1200,"G":400,"M":3000,"O":800},
    {"p":"k","t":170,"T":700,"C":1100,"G":500,"M":2800,"O":800},
    {"p":"k","t":180,"T":600,"C":1000,"G":400,"M":2500,"O":700},
    {"p":"k","t":185,"T":1000,"C":2000,"G":800,"M":3800,"O":1100},
    {"p":"k","t":190,"T":1500,"C":2800,"G":1300,"M":5100,"O":1600},
    {"p":"k","t":195,"T":900,"C":1500,"G":600,"M":3500,"O":1000},
    {"p":"k","t":200,"T":800,"C":1300,"G":500,"M":3000,"O":900},
    {"p":"k","t":205,"T":700,"C":1100,"G":400,"M":2600,"O":800},
    {"p":"k","t":210,"T":900,"C":1300,"G":600,"M":2900,"O":1000},
    {"p":"k","t":215,"T":1000,"C":1500,"G":700,"M":3000,"O":1100},

    {"p":"l","t":0,"T":2100,"C":3200,"G":2000,"M":2800,"O":2000,"A":7600},
    {"p":"l","t":3,"T":1900,"C":2000,"G":1500,"M":1800,"O":1600,"A":3000},
    {"p":"l","t":6,"T":1700,"C":1900,"G":400,"M":1500,"O":1400,"A":500},
    {"p":"l","t":10,"T":1200,"C":1900,"G":200,"M":1200,"O":1500,"A":300},
    {"p":"l","t":15,"T":1100,"C":1900,"G":200,"M":1100,"O":1500,"A":300},
    {"p":"l","t":19,"T":1200,"C":1800,"G":1000,"M":1200,"O":1400,"A":300},
    {"p":"l","t":22,"T":2000,"C":2500,"G":2000,"M":2000,"O":2000,"A":5000},
    {"p":"l","t":26,"T":2500,"C":3500,"G":4000,"M":3000,"O":2500,"A":12000},
    {"p":"l","t":30,"T":2700,"C":4700,"G":6300,"M":4300,"O":2800,"A":12000},
    {"p":"l","t":33,"T":2900,"C":4500,"G":6000,"M":4200,"O":2800,"A":12000},
    {"p":"l","t":36,"T":2400,"C":3000,"G":3500,"M":2500,"O":2500,"A":12000},
    {"p":"l","t":40,"T":1600,"C":2200,"G":500,"M":1500,"O":1800,"A":3000},
    {"p":"l","t":45,"T":1300,"C":1700,"G":100,"M":1200,"O":1500,"A":500},
    {"p":"l","t":50,"T":1100,"C":1600,"G":0,"M":1000,"O":1400,"A":200},
    {"p":"l","t":55,"T":1000,"C":1500,"G":0,"M":900,"O":1300,"A":150},
    {"p":"l","t":60,"T":1000,"C":1500,"G":0,"M":900,"O":1300,"A":100},
    {"p":"l","t":65,"T":900,"C":1500,"G":0,"M":800,"O":1300,"A":100},
    {"p":"l","t":70,"T":1000,"C":1700,"G":0,"M":1000,"O":1400,"A":1400},
    {"p":"l","t":73,"T":1100,"C":1800,"G":0,"M":1000,"O":1500,"A":600},
    {"p":"l","t":78,"T":800,"C":1600,"G":0,"M":800,"O":1300,"A":200},
    {"p":"l","t":85,"T":1000,"C":1700,"G":0,"M":900,"O":1400,"A":300},
    {"p":"l","t":90,"T":1000,"C":1900,"G":0,"M":1200,"O":1600,"A":200},
    {"p":"l","t":95,"T":900,"C":1700,"G":0,"M":900,"O":1400,"A":250},
    {"p":"l","t":100,"T":800,"C":1500,"G":0,"M":800,"O":1200,"A":200},
    {"p":"l","t":105,"T":700,"C":1500,"G":0,"M":700,"O":1200,"A":200},
    {"p":"l","t":110,"T":900,"C":1700,"G":0,"M":900,"O":1400,"A":150},
    {"p":"l","t":115,"T":600,"C":1400,"G":0,"M":700,"O":1200,"A":150},
    {"p":"l","t":120,"T":500,"C":1300,"G":0,"M":600,"O":1100,"A":200},
    {"p":"l","t":125,"T":600,"C":1400,"G":0,"M":700,"O":1200,"A":250},
    {"p":"l","t":130,"T":600,"C":1800,"G":0,"M":900,"O":1400,"A":300},
    {"p":"l","t":135,"T":400,"C":1500,"G":0,"M":500,"O":1200,"A":200},
    {"p":"l","t":140,"T":300,"C":1100,"G":0,"M":400,"O":1000,"A":150},
    {"p":"l","t":150,"T":200,"C":900,"G":0,"M":250,"O":950,"A":100},
    {"p":"l","t":160,"T":150,"C":750,"G":0,"M":200,"O":900,"A":50},

    {"p":"m","t":0,"T":900,"C":480,"G":550,"M":500,"O":450},
    {"p":"m","t":4,"T":550,"C":320,"G":350,"M":350,"O":300},
    {"p":"m","t":8,"T":350,"C":220,"G":250,"M":250,"O":200},
    {"p":"m","t":12,"T":250,"C":170,"G":200,"M":200,"O":150},
    {"p":"m","t":16,"T":380,"C":270,"G":300,"M":300,"O":250},
    {"p":"m","t":20,"T":650,"C":420,"G":500,"M":450,"O":400},
    {"p":"m","t":24,"T":850,"C":570,"G":700,"M":600,"O":550},
    {"p":"m","t":28,"T":950,"C":670,"G":850,"M":700,"O":650},
    {"p":"m","t":31,"T":1300,"C":780,"G":1600,"M":850,"O":750},
    {"p":"m","t":34,"T":1000,"C":680,"G":900,"M":750,"O":650},
    {"p":"m","t":38,"T":650,"C":480,"G":600,"M":550,"O":450},
    {"p":"m","t":42,"T":450,"C":350,"G":400,"M":400,"O":330},
    {"p":"m","t":46,"T":330,"C":270,"G":280,"M":300,"O":250},
    {"p":"m","t":50,"T":300,"C":250,"G":250,"M":280,"O":230},
    {"p":"m","t":54,"T":450,"C":340,"G":380,"M":380,"O":320},
    {"p":"m","t":58,"T":400,"C":320,"G":350,"M":350,"O":300},
    {"p":"m","t":62,"T":700,"C":500,"G":650,"M":550,"O":480},
    {"p":"m","t":65,"T":1300,"C":780,"G":1450,"M":850,"O":750},
    {"p":"m","t":68,"T":900,"C":630,"G":800,"M":700,"O":600},
    {"p":"m","t":72,"T":700,"C":500,"G":600,"M":550,"O":480},
    {"p":"m","t":78,"T":620,"C":440,"G":520,"M":480,"O":420},
    {"p":"m","t":84,"T":480,"C":350,"G":400,"M":380,"O":330},
    {"p":"m","t":90,"T":350,"C":270,"G":300,"M":300,"O":250},
    {"p":"m","t":96,"T":320,"C":240,"G":260,"M":260,"O":220},
    {"p":"m","t":102,"T":260,"C":200,"G":200,"M":220,"O":180},
    {"p":"m","t":108,"T":180,"C":145,"G":140,"M":160,"O":130},
    {"p":"m","t":114,"T":150,"C":110,"G":110,"M":120,"O":100},
    {"p":"m","t":120,"T":180,"C":145,"G":150,"M":160,"O":130},
    {"p":"m","t":125,"T":500,"C":370,"G":400,"M":400,"O":350},
    {"p":"m","t":129,"T":920,"C":550,"G":600,"M":600,"O":520},
    {"p":"m","t":133,"T":750,"C":480,"G":500,"M":520,"O":450},
    {"p":"m","t":137,"T":550,"C":360,"G":400,"M":400,"O":340},
    {"p":"m","t":142,"T":350,"C":240,"G":250,"M":260,"O":220},
    {"p":"m","t":148,"T":180,"C":120,"G":120,"M":130,"O":110},
    {"p":"m","t":156,"T":110,"C":75,"G":80,"M":80,"O":70},
    {"p":"m","t":165,"T":80,"C":55,"G":60,"M":60,"O":50},
    {"p":"m","t":175,"T":60,"C":45,"G":50,"M":50,"O":40},
    {"p":"m","t":185,"T":50,"C":38,"G":40,"M":40,"O":35},
    {"p":"m","t":195,"T":60,"C":45,"G":50,"M":50,"O":40},
    {"p":"m","t":203,"T":100,"C":65,"G":80,"M":70,"O":60},
    {"p":"m","t":208,"T":250,"C":140,"G":180,"M":150,"O":130},
    {"p":"m","t":211,"T":500,"C":110,"G":120,"M":120,"O":100},
    {"p":"m","t":215,"T":80,"C":55,"G":60,"M":60,"O":50},

    {"p":"n","t":0,"T":4300,"C":2500,"G":2300,"M":4200,"O":2600,"A":450},
    {"p":"n","t":5,"T":3800,"C":2200,"G":2000,"M":3800,"O":2300,"A":420},
    {"p":"n","t":10,"T":3200,"C":1800,"G":1700,"M":3200,"O":1900,"A":380},
    {"p":"n","t":15,"T":3100,"C":1700,"G":1600,"M":3000,"O":1800,"A":400},
    {"p":"n","t":20,"T":3000,"C":1700,"G":1600,"M":2900,"O":1800,"A":400},
    {"p":"n","t":25,"T":3300,"C":1900,"G":1800,"M":3100,"O":2000,"A":420},
    {"p":"n","t":30,"T":3600,"C":2200,"G":2100,"M":3500,"O":2300,"A":380},
    {"p":"n","t":35,"T":4000,"C":2600,"G":2500,"M":4000,"O":2700,"A":450},
    {"p":"n","t":40,"T":4800,"C":3300,"G":3200,"M":4800,"O":3400,"A":520},
    {"p":"n","t":43,"T":4400,"C":2900,"G":2800,"M":4500,"O":3000,"A":450},
    {"p":"n","t":46,"T":3800,"C":2400,"G":2300,"M":3800,"O":2500,"A":400},
    {"p":"n","t":50,"T":3600,"C":2200,"G":2100,"M":3600,"O":2300,"A":420},
    {"p":"n","t":55,"T":3500,"C":2200,"G":2100,"M":3500,"O":2300,"A":430},
    {"p":"n","t":60,"T":3600,"C":2300,"G":2200,"M":3500,"O":2400,"A":450},
    {"p":"n","t":65,"T":4000,"C":2600,"G":2500,"M":3800,"O":2700,"A":500},
    {"p":"n","t":70,"T":5000,"C":3200,"G":3100,"M":4800,"O":3300,"A":520},
    {"p":"n","t":73,"T":4200,"C":2700,"G":2600,"M":4000,"O":2800,"A":600},
    {"p":"n","t":76,"T":4500,"C":2900,"G":2800,"M":4200,"O":3000,"A":900},
    {"p":"n","t":80,"T":7000,"C":4600,"G":4400,"M":6000,"O":4500,"A":1200},
    {"p":"n","t":83,"T":8000,"C":5600,"G":5400,"M":7000,"O":5500,"A":1500},
    {"p":"n","t":86,"T":9900,"C":7000,"G":6700,"M":9400,"O":6800},
    {"p":"n","t":88,"T":9500,"C":6800,"G":6400,"M":9000,"O":6500},
    {"p":"n","t":90,"T":8500,"C":6200,"G":5900,"M":8200,"O":6000,"A":900},
    {"p":"n","t":95,"T":7200,"C":5500,"G":5200,"M":7000,"O":5300,"A":1000},
    {"p":"n","t":100,"T":6000,"C":4600,"G":4400,"M":5800,"O":4500,"A":500},
    {"p":"n","t":103,"T":5500,"C":4300,"G":4100,"M":5200,"O":4200,"A":600},
    {"p":"n","t":106,"T":7000,"C":5200,"G":4900,"M":6500,"O":5000,"A":1300},
    {"p":"n","t":110,"T":8800,"C":6500,"G":6200,"M":8500,"O":6300,"A":1300},
    {"p":"n","t":113,"T":8500,"C":6400,"G":6100,"M":8200,"O":6200,"A":1100},
    {"p":"n","t":116,"T":7200,"C":5500,"G":5200,"M":7000,"O":5300,"A":700},
    {"p":"n","t":118,"T":5000,"C":3900,"G":3600,"M":5000,"O":3800,"A":500},
    {"p":"n","t":121,"T":4000,"C":3000,"G":2800,"M":4000,"O":3000},
    {"p":"n","t":124,"T":7000,"C":5200,"G":4900,"M":6500,"O":5000},
    {"p":"n","t":127,"T":8400,"C":6200,"G":5900,"M":8000,"O":6000,"A":1500},
    {"p":"n","t":130,"T":9600,"C":7200,"G":7000,"M":9000,"O":6800,"A":1200},
    {"p":"n","t":133,"T":9200,"C":7000,"G":6600,"M":8900,"O":6700,"A":1000},
    {"p":"n","t":136,"T":8200,"C":6200,"G":5900,"M":8000,"O":6000},
    {"p":"n","t":140,"T":6800,"C":4900,"G":4600,"M":6500,"O":4800},
    {"p":"n","t":145,"T":5000,"C":3500,"G":3300,"M":5000,"O":3500,"A":300},
    {"p":"n","t":150,"T":4200,"C":2600,"G":2400,"M":4200,"O":2700,"A":400},
    {"p":"n","t":155,"T":4500,"C":2900,"G":2700,"M":4500,"O":3000,"A":500},
    {"p":"n","t":160,"T":5000,"C":3300,"G":3100,"M":5000,"O":3400,"A":600},
    {"p":"n","t":163,"T":5000,"C":3500,"G":3300,"M":5100,"O":3600,"A":600},

    {"p":"o","t":0,"T":24000,"C":18000,"G":23000,"M":10500,"O":16000,"A":700},
    {"p":"o","t":3,"T":22000,"C":16000,"G":17000,"M":9000,"O":15000,"A":500},
    {"p":"o","t":6,"T":17000,"C":12000,"G":10000,"M":6000,"O":12000,"A":300},
    {"p":"o","t":10,"T":12000,"C":9000,"G":6000,"M":3000,"O":8000,"A":200},
    {"p":"o","t":15,"T":15000,"C":11000,"G":10000,"M":4500,"O":9500,"A":200},
    {"p":"o","t":20,"T":18000,"C":14000,"G":14000,"M":7000,"O":12000,"A":300},
    {"p":"o","t":25,"T":22000,"C":17000,"G":20000,"M":10000,"O":15000,"A":400},
    {"p":"o","t":30,"T":26000,"C":19500,"G":35000,"M":12500,"O":17500,"A":600},
    {"p":"o","t":33,"T":26500,"C":20000,"G":44000,"M":13000,"O":18000,"A":900},
    {"p":"o","t":36,"T":25500,"C":19500,"G":32000,"M":12500,"O":17500},
    {"p":"o","t":40,"T":20000,"C":16000,"G":15000,"M":9000,"O":15000,"A":400},
    {"p":"o","t":45,"T":15000,"C":11000,"G":8000,"M":5000,"O":10000,"A":200},
    {"p":"o","t":50,"T":11000,"C":9000,"G":5000,"M":3000,"O":8000,"A":150},
    {"p":"o","t":55,"T":9000,"C":8000,"G":4000,"M":2500,"O":7500,"A":100},
    {"p":"o","t":60,"T":12000,"C":9000,"G":6000,"M":4000,"O":8500,"A":100},
    {"p":"o","t":65,"T":19000,"C":14000,"G":14000,"M":8000,"O":13000,"A":100},
    {"p":"o","t":68,"T":22500,"C":17000,"G":22000,"M":9500,"O":15500,"A":100},
    {"p":"o","t":72,"T":18000,"C":14000,"G":12000,"M":7500,"O":13000,"A":100},
    {"p":"o","t":76,"T":16000,"C":13000,"G":10000,"M":6500,"O":12000,"A":100},
    {"p":"o","t":80,"T":18000,"C":14000,"G":11000,"M":7500,"O":12500,"A":100},
    {"p":"o","t":85,"T":19000,"C":14000,"G":12000,"M":7000,"O":13000,"A":100},
    {"p":"o","t":90,"T":17000,"C":12000,"G":10000,"M":6000,"O":11000,"A":100},
    {"p":"o","t":95,"T":12000,"C":9000,"G":6000,"M":3500,"O":8000,"A":100},
    {"p":"o","t":100,"T":10000,"C":8000,"G":4000,"M":2500,"O":7000,"A":100},
    {"p":"o","t":105,"T":9000,"C":7000,"G":3000,"M":2000,"O":6500,"A":100},
    {"p":"o","t":110,"T":7000,"C":6000,"G":1500,"M":1500,"O":6000,"A":100},
    {"p":"o","t":115,"T":10000,"C":8000,"G":4000,"M":3000,"O":7500,"A":100},
    {"p":"o","t":120,"T":13000,"C":11000,"G":8000,"M":5500,"O":10000,"A":100},
    {"p":"o","t":125,"T":17000,"C":13000,"G":12000,"M":7500,"O":12500,"A":100},
    {"p":"o","t":130,"T":20000,"C":15000,"G":14000,"M":8000,"O":14000,"A":100},
    {"p":"o","t":135,"T":19000,"C":14000,"G":13000,"M":7000,"O":13000,"A":100},
    {"p":"o","t":140,"T":15000,"C":11000,"G":8000,"M":4500,"O":10000,"A":100},
    {"p":"o","t":145,"T":11000,"C":8000,"G":4000,"M":2000,"O":7000,"A":100},
    {"p":"o","t":150,"T":8000,"C":6000,"G":2000,"M":1000,"O":5500,"A":100},
    {"p":"o","t":155,"T":5000,"C":5000,"G":1500,"M":500,"O":5000,"A":100},
    {"p":"o","t":160,"T":4500,"C":4500,"G":1500,"M":500,"O":4500,"A":100},
    {"p":"o","t":163,"T":4500,"C":4500,"G":1500,"M":500,"O":4500,"A":100},

    {"p":"p","t":0,"T":11000,"C":7800,"G":12000,"M":7200,"O":4300},
    {"p":"p","t":3,"T":11200,"C":8200,"G":15000,"M":7600,"O":4800},
    {"p":"p","t":5,"T":11500,"C":8700,"G":22800,"M":8000,"O":5800},
    {"p":"p","t":7,"T":11600,"C":8400,"G":22000,"M":7800,"O":5300},
    {"p":"p","t":9,"T":11200,"C":8000,"G":18000,"M":7400,"O":4800},
    {"p":"p","t":12,"T":11000,"C":7600,"G":14000,"M":7000,"O":4300},
    {"p":"p","t":15,"T":10800,"C":7400,"G":11000,"M":6800,"O":4100},
    {"p":"p","t":18,"T":11000,"C":7800,"G":10000,"M":7200,"O":4500},
    {"p":"p","t":21,"T":11600,"C":8200,"G":12000,"M":7600,"O":5000},
    {"p":"p","t":23,"T":12100,"C":8600,"G":18000,"M":8000,"O":5300},
    {"p":"p","t":25,"T":11500,"C":8000,"G":14000,"M":7400,"O":4700},
    {"p":"p","t":28,"T":11000,"C":7600,"G":11000,"M":7000,"O":4300},
    {"p":"p","t":31,"T":10700,"C":7400,"G":10000,"M":6800,"O":4100},
    {"p":"p","t":34,"T":10500,"C":7300,"G":9500,"M":6700,"O":4000},
    {"p":"p","t":37,"T":10600,"C":7800,"G":12000,"M":7200,"O":4400},
    {"p":"p","t":39,"T":10800,"C":8000,"G":14000,"M":7400,"O":4600},
    {"p":"p","t":42,"T":10600,"C":7800,"G":14800,"M":7200,"O":4400},
    {"p":"p","t":44,"T":10200,"C":7200,"G":10000,"M":6600,"O":3800},
    {"p":"p","t":46,"T":10000,"C":7000,"G":9500,"M":6400,"O":3600},
    {"p":"p","t":48,"T":10600,"C":7200,"G":10000,"M":6400,"O":3500},
    {"p":"p","t":50,"T":10500,"C":6800,"G":10500,"M":6200,"O":3400},
    {"p":"p","t":52,"T":9800,"C":6400,"G":7000,"M":5900,"O":3200},
    {"p":"p","t":55,"T":9500,"C":6200,"G":6000,"M":5700,"O":3100},
    {"p":"p","t":60,"T":9200,"C":6000,"G":5500,"M":5600,"O":3000},
    {"p":"p","t":65,"T":9000,"C":5900,"G":5500,"M":5500,"O":2900},
    {"p":"p","t":70,"T":8800,"C":5800,"G":5300,"M":5400,"O":2900},
    {"p":"p","t":75,"T":8700,"C":5800,"G":5000,"M":5400,"O":2800},
    {"p":"p","t":80,"T":8600,"C":5900,"G":5000,"M":5500,"O":2900},
    {"p":"p","t":85,"T":8800,"C":5800,"G":5200,"M":5400,"O":2800},
    {"p":"p","t":90,"T":8700,"C":5700,"G":4800,"M":5300,"O":2800},
    {"p":"p","t":95,"T":8600,"C":5600,"G":4500,"M":5200,"O":2700},
    {"p":"p","t":100,"T":8600,"C":5700,"G":4800,"M":5300,"O":2800},
    {"p":"p","t":105,"T":8800,"C":6000,"G":5500,"M":5600,"O":3000},
    {"p":"p","t":110,"T":9800,"C":6300,"G":5000,"M":5800,"O":3200},
    {"p":"p","t":115,"T":8600,"C":5800,"G":4500,"M":5400,"O":2800},
    {"p":"p","t":120,"T":8800,"C":6000,"G":5000,"M":5500,"O":2900},
    {"p":"p","t":125,"T":8700,"C":5800,"G":4300,"M":5300,"O":2700},
    {"p":"p","t":130,"T":8500,"C":5600,"G":3800,"M":5200,"O":2600},
    {"p":"p","t":135,"T":8400,"C":5700,"G":4500,"M":5300,"O":2700},
    {"p":"p","t":140,"T":8700,"C":5900,"G":4000,"M":5400,"O":2900},

    {"p":"q","t":0,"T":10500,"C":10000,"G":13000,"M":5000,"O":20000},
    {"p":"q","t":2,"T":11000,"C":9000,"G":14000,"M":3000,"O":22000},
    {"p":"q","t":4,"T":10500,"C":7000,"G":30000,"M":6000,"O":25000},
    {"p":"q","t":6,"T":11000,"C":12000,"G":46000,"M":5000,"O":20000},
    {"p":"q","t":8,"T":11500,"C":10000,"G":35000,"M":4500,"O":18000},
    {"p":"q","t":10,"T":11000,"C":9000,"G":15000,"M":4000,"O":15000},
    {"p":"q","t":13,"T":10500,"C":8000,"G":12000,"M":5500,"O":10000},
    {"p":"q","t":16,"T":11000,"C":11000,"G":10000,"M":5000,"O":18000},
    {"p":"q","t":19,"T":11000,"C":10000,"G":15000,"M":4500,"O":17000},
    {"p":"q","t":22,"T":11500,"C":9000,"G":20000,"M":5500,"O":20000},
    {"p":"q","t":24,"T":11500,"C":11000,"G":25000,"M":5000,"O":22000},
    {"p":"q","t":26,"T":11000,"C":9000,"G":14000,"M":4500,"O":18000},
    {"p":"q","t":29,"T":10500,"C":8500,"G":12000,"M":4000,"O":16000},
    {"p":"q","t":32,"T":10000,"C":9000,"G":10000,"M":4500,"O":17000},
    {"p":"q","t":35,"T":10000,"C":8000,"G":9000,"M":4000,"O":12000},
    {"p":"q","t":38,"T":10000,"C":11000,"G":13000,"M":6500,"O":24000},
    {"p":"q","t":40,"T":10000,"C":12000,"G":16000,"M":5000,"O":22000},
    {"p":"q","t":42,"T":9500,"C":9000,"G":12000,"M":4500,"O":18000},
    {"p":"q","t":45,"T":9500,"C":8000,"G":8000,"M":4000,"O":16000},
    {"p":"q","t":50,"T":9000,"C":8000,"G":7000,"M":4000,"O":15000},
    {"p":"q","t":55,"T":9000,"C":7500,"G":6000,"M":3500,"O":9000},
    {"p":"q","t":60,"T":9000,"C":8000,"G":8000,"M":3500,"O":17000},
    {"p":"q","t":65,"T":8500,"C":7500,"G":7000,"M":3200,"O":16500},
    {"p":"q","t":70,"T":8500,"C":7000,"G":6500,"M":3500,"O":16000},
    {"p":"q","t":75,"T":8500,"C":7500,"G":6000,"M":3000,"O":15000},
    {"p":"q","t":80,"T":8500,"C":7500,"G":5500,"M":3200,"O":17000},
    {"p":"q","t":85,"T":8000,"C":7000,"G":6000,"M":2500,"O":14000},
    {"p":"q","t":90,"T":8500,"C":6500,"G":5000,"M":3000,"O":12000},
    {"p":"q","t":95,"T":8500,"C":7500,"G":6000,"M":3200,"O":17000},
    {"p":"q","t":100,"T":8500,"C":7000,"G":5500,"M":2500,"O":20000},
    {"p":"q","t":105,"T":8500,"C":6000,"G":5000,"M":0,"O":5000},
    {"p":"q","t":110,"T":8000,"C":7000,"G":6000,"M":3000,"O":16000},
    {"p":"q","t":115,"T":8000,"C":6500,"G":5500,"M":2500,"O":17000},
    {"p":"q","t":120,"T":8000,"C":6500,"G":5000,"M":2500,"O":16000},
    {"p":"q","t":125,"T":8000,"C":6000,"G":4500,"M":3000,"O":13000},
    {"p":"q","t":130,"T":8000,"C":4000,"G":3000,"M":2000,"O":9000},
    {"p":"q","t":135,"T":8000,"C":7000,"G":5000,"M":3000,"O":17000},
    {"p":"q","t":140,"T":8000,"C":6500,"G":4500,"M":3000,"O":18000},

    {"p":"r","t":0,"T":500,"C":800,"G":400,"M":600,"O":300,"A":200},
    {"p":"r","t":20,"T":500,"C":800,"G":400,"M":600,"O":300,"A":200},
    {"p":"r","t":40,"T":800,"C":1100,"G":700,"M":900,"O":600,"A":300},
    {"p":"r","t":45,"T":1800,"C":2000,"G":1600,"M":1800,"O":1400,"A":400},
    {"p":"r","t":50,"T":800,"C":1100,"G":700,"M":900,"O":600,"A":300},
    {"p":"r","t":60,"T":1500,"C":1800,"G":1300,"M":1600,"O":1200,"A":400},
    {"p":"r","t":70,"T":900,"C":1200,"G":800,"M":1000,"O":700,"A":300},
    {"p":"r","t":80,"T":700,"C":1000,"G":600,"M":800,"O":500,"A":250},
    {"p":"r","t":100,"T":600,"C":900,"G":500,"M":700,"O":400,"A":200},
    {"p":"r","t":115,"T":600,"C":900,"G":500,"M":700,"O":400,"A":200},
    {"p":"r","t":122,"T":700,"C":1000,"G":600,"M":800,"O":500,"A":300},
    {"p":"r","t":125,"T":5000,"C":5200,"G":6500,"M":4800,"O":3500,"A":500},
    {"p":"r","t":128,"T":3500,"C":3700,"G":3000,"M":3400,"O":2500,"A":500},
    {"p":"r","t":132,"T":2000,"C":2300,"G":1500,"M":2000,"O":1500,"A":400},
    {"p":"r","t":140,"T":4000,"C":4200,"G":3500,"M":3800,"O":3000,"A":500},
    {"p":"r","t":150,"T":1500,"C":1800,"G":1200,"M":1500,"O":1000,"A":400},
    {"p":"r","t":160,"T":2500,"C":2800,"G":2200,"M":2500,"O":1800,"A":500},
    {"p":"r","t":170,"T":2000,"C":2300,"G":1800,"M":2000,"O":1500,"A":400},
    {"p":"r","t":180,"T":3000,"C":3200,"G":2700,"M":2900,"O":2200,"A":500},
    {"p":"r","t":190,"T":1500,"C":1800,"G":1300,"M":1500,"O":1000,"A":400},
    {"p":"r","t":200,"T":2000,"C":2300,"G":1700,"M":2000,"O":1500,"A":400},
    {"p":"r","t":210,"T":2500,"C":2800,"G":2200,"M":2500,"O":1800,"A":500},
    {"p":"r","t":220,"T":1500,"C":1800,"G":1300,"M":1500,"O":1000,"A":400},
    {"p":"r","t":230,"T":2000,"C":2300,"G":1700,"M":2000,"O":1500,"A":400},
    {"p":"r","t":240,"T":2000,"C":2300,"G":1800,"M":2000,"O":1500,"A":400},
    {"p":"r","t":250,"T":1500,"C":1800,"G":1300,"M":1500,"O":1000,"A":400},
    {"p":"r","t":260,"T":2500,"C":2800,"G":2200,"M":2500,"O":1800,"A":500},
    {"p":"r","t":270,"T":2000,"C":2300,"G":1700,"M":2000,"O":1500,"A":400},
    {"p":"r","t":280,"T":1500,"C":1800,"G":1300,"M":1500,"O":1000,"A":400},
    {"p":"r","t":290,"T":1500,"C":1800,"G":1300,"M":1500,"O":1000,"A":400},
    {"p":"r","t":300,"T":1200,"C":1500,"G":1000,"M":1200,"O":800,"A":300},
    {"p":"r","t":310,"T":1300,"C":1600,"G":1100,"M":1300,"O":900,"A":400},
    {"p":"r","t":318,"T":1500,"C":1800,"G":1300,"M":1500,"O":1000,"A":400},
    {"p":"r","t":322,"T":3000,"C":3300,"G":2500,"M":3100,"O":2500,"A":600},
    {"p":"r","t":326,"T":5000,"C":5500,"G":4000,"M":5800,"O":4000,"A":800},
    {"p":"r","t":330,"T":8000,"C":7000,"G":27500,"M":7500,"O":5000,"A":900},
    {"p":"r","t":334,"T":4000,"C":3800,"G":6000,"M":3800,"O":3000,"A":600},
    {"p":"r","t":338,"T":2000,"C":2300,"G":1500,"M":2000,"O":1500,"A":300},
    {"p":"r","t":345,"T":1500,"C":1800,"G":1200,"M":1500,"O":1000,"A":300},
    {"p":"r","t":355,"T":1500,"C":1800,"G":1200,"M":1500,"O":1000,"A":200},
    {"p":"r","t":365,"T":1500,"C":1800,"G":1200,"M":1500,"O":1000,"A":200},

    {"p":"s","t":0,"T":4500,"C":11000,"G":1500,"M":10000,"O":15000,"A":500},
    {"p":"s","t":25,"T":3500,"C":10500,"G":1200,"M":9800,"O":15200,"A":500},
    {"p":"s","t":50,"T":3000,"C":10300,"G":1000,"M":9500,"O":15500,"A":400},
    {"p":"s","t":75,"T":2800,"C":10200,"G":900,"M":9200,"O":15300,"A":400},
    {"p":"s","t":100,"T":3000,"C":10000,"G":900,"M":9000,"O":15800,"A":500},
    {"p":"s","t":125,"T":2800,"C":10200,"G":800,"M":9300,"O":15400,"A":400},
    {"p":"s","t":150,"T":2500,"C":10000,"G":800,"M":9000,"O":15200,"A":400},
    {"p":"s","t":175,"T":3000,"C":10500,"G":1200,"M":9500,"O":14800,"A":600},
    {"p":"s","t":190,"T":6000,"C":12000,"G":3000,"M":11000,"O":16000,"A":1200},
    {"p":"s","t":198,"T":20000,"C":19000,"G":20000,"M":18000,"O":19000},
    {"p":"s","t":205,"T":36000,"C":27000,"G":40000,"M":28000,"O":23000},
    {"p":"s","t":212,"T":39000,"C":30000,"G":65000,"M":32000,"O":26000},
    {"p":"s","t":218,"T":38000,"C":29000,"G":42000,"M":30000,"O":27000},
    {"p":"s","t":225,"T":39000,"C":31000,"G":45000,"M":33000,"O":28000},
    {"p":"s","t":232,"T":39500,"C":32000,"G":68000,"M":35000,"O":27500},
    {"p":"s","t":240,"T":40000,"C":34000,"G":71000,"M":37000,"O":29000},
    {"p":"s","t":247,"T":38000,"C":33000,"G":60000,"M":35000,"O":28000},
    {"p":"s","t":254,"T":33000,"C":30000,"G":36000,"M":31000,"O":26000},
    {"p":"s","t":260,"T":32000,"C":31000,"G":45000,"M":33000,"O":27500},
    {"p":"s","t":266,"T":30000,"C":29000,"G":52000,"M":30000,"O":25000},
    {"p":"s","t":272,"T":24000,"C":24000,"G":30000,"M":25000,"O":22000},
    {"p":"s","t":280,"T":17000,"C":18000,"G":15000,"M":18000,"O":18000},
    {"p":"s","t":290,"T":10000,"C":13500,"G":8000,"M":13000,"O":16000},
    {"p":"s","t":300,"T":7000,"C":12000,"G":5000,"M":11000,"O":15500,"A":800},
    {"p":"s","t":315,"T":5500,"C":11500,"G":3000,"M":10500,"O":15500,"A":1000},
    {"p":"s","t":330,"T":4500,"C":11000,"G":2500,"M":10000,"O":15300,"A":800},
    {"p":"s","t":345,"T":4000,"C":10500,"G":2000,"M":9800,"O":15000,"A":600},
    {"p":"s","t":365,"T":3500,"C":10000,"G":1800,"M":9500,"O":14800,"A":500}
  ]},
  "concat": [
    {"title": "a: Platte", "transform": [{"filter": "datum.p=='a'"}],
     "encoding": {"x": {"field": "t", "type": "quantitative", "title": null, "scale": {"domain": [0, 22]}, "axis": {"values": [0, 5, 10, 15, 20]}},
                  "y": {"field": "q", "type": "quantitative", "title": "Discharge, m³s⁻¹", "scale": {"domain": [0, 400]}, "axis": {"values": [0, 100, 200, 300, 400], "titleX": -30}},
                  "color": {"field": "k", "type": "nominal", "title": null, "scale": {"domain": ["T", "C", "G", "M", "O", "A"]},
                            "legend": {"labelExpr": "datum.label=='T'?'True':datum.label=='C'?'MFCR':datum.label=='G'?'MFG':datum.label=='M'?'MetroMan':datum.label=='O'?'GaMo':'AMHG'",
                                       "encode": {"symbols": {"strokeWidth": {"condition": {"test": "datum.value=='T'", "value": 3.5}, "value": 2}}}}}},
     "layer": [{"transform": [{"fold": ["C", "G", "M", "O", "A"], "as": ["k", "q"]}], "mark": {"type": "line", "clip": true}},
               {"transform": [{"fold": ["T"], "as": ["k", "q"]}], "mark": {"type": "line", "clip": true, "strokeWidth": 3.5, "strokeDash": [6, 4]}},
               {"transform": [{"filter": "false"}, {"fold": ["T"], "as": ["k", "q"]}], "mark": {"type": "line", "clip": true},
                "encoding": {"strokeDash": {"field": "k", "type": "nominal", "title": null, "scale": {"domain": ["T", "C", "G", "M", "O", "A"], "range": [[7, 6, 7, 40], [1, 0], [1, 0], [1, 0], [1, 0], [1, 0]]}}}}]},
    {"title": "b: Tanana", "transform": [{"filter": "datum.p=='b'"}],
     "encoding": {"x": {"field": "t", "type": "quantitative", "title": null, "scale": {"domain": [0, 100]}, "axis": {"values": [0, 20, 40, 60, 80, 100]}},
                  "y": {"field": "q", "type": "quantitative", "title": null, "scale": {"domain": [0, 2000]}, "axis": {"values": [0, 400, 800, 1200, 1600, 2000]}},
                  "color": {"field": "k", "type": "nominal", "title": null, "scale": {"domain": ["T", "C", "G", "M", "O", "A"]}}},
     "layer": [{"transform": [{"fold": ["C", "G", "M", "O", "A"], "as": ["k", "q"]}], "mark": {"type": "line", "clip": true}},
               {"transform": [{"fold": ["T"], "as": ["k", "q"]}], "mark": {"type": "line", "clip": true, "strokeWidth": 3.5, "strokeDash": [6, 4]}}]},
    {"title": "c: Seine", "transform": [{"filter": "datum.p=='c'"}],
     "encoding": {"x": {"field": "t", "type": "quantitative", "title": null, "scale": {"domain": [0, 365]}, "axis": {"values": [0, 100, 200, 300]}},
                  "y": {"field": "q", "type": "quantitative", "title": null, "scale": {"domain": [0, 1200]}, "axis": {"values": [0, 200, 400, 600, 800, 1000, 1200]}},
                  "color": {"field": "k", "type": "nominal", "title": null, "scale": {"domain": ["T", "C", "G", "M", "O", "A"]}}},
     "layer": [{"transform": [{"fold": ["C", "G", "M", "O", "A"], "as": ["k", "q"]}], "mark": {"type": "line", "clip": true}},
               {"transform": [{"fold": ["T"], "as": ["k", "q"]}], "mark": {"type": "line", "clip": true, "strokeWidth": 3.5, "strokeDash": [6, 4]}}]},
    {"title": "d: Severn", "transform": [{"filter": "datum.p=='d'"}],
     "encoding": {"x": {"field": "t", "type": "quantitative", "title": null, "scale": {"domain": [0, 80]}, "axis": {"values": [0, 20, 40, 60, 80]}},
                  "y": {"field": "q", "type": "quantitative", "title": null, "scale": {"domain": [0, 1200]}, "axis": {"values": [0, 200, 400, 600, 800, 1000, 1200]}},
                  "color": {"field": "k", "type": "nominal", "title": null, "scale": {"domain": ["T", "C", "G", "M", "O", "A"]}}},
     "layer": [{"transform": [{"fold": ["C", "G", "M", "O", "A"], "as": ["k", "q"]}], "mark": {"type": "line", "clip": true}},
               {"transform": [{"fold": ["T"], "as": ["k", "q"]}], "mark": {"type": "line", "clip": true, "strokeWidth": 3.5, "strokeDash": [6, 4]}}]},
    {"title": "e: Garrone - upstream", "transform": [{"filter": "datum.p=='e'"}],
     "encoding": {"x": {"field": "t", "type": "quantitative", "title": null, "scale": {"domain": [0, 365]}, "axis": {"values": [0, 100, 200, 300]}},
                  "y": {"field": "q", "type": "quantitative", "title": "Discharge, m³s⁻¹", "scale": {"domain": [0, 1400]}, "axis": {"values": [0, 400, 800, 1200], "titleX": -30}},
                  "color": {"field": "k", "type": "nominal", "title": null, "scale": {"domain": ["T", "C", "G", "M", "O", "A"]}}},
     "layer": [{"transform": [{"fold": ["C", "G", "M", "O", "A"], "as": ["k", "q"]}], "mark": {"type": "line", "clip": true}},
               {"transform": [{"fold": ["T"], "as": ["k", "q"]}], "mark": {"type": "line", "clip": true, "strokeWidth": 3.5, "strokeDash": [6, 4]}}]},
    {"title": "f: Garrone - downstream", "transform": [{"filter": "datum.p=='f'"}],
     "encoding": {"x": {"field": "t", "type": "quantitative", "title": null, "scale": {"domain": [0, 365]}, "axis": {"values": [0, 100, 200, 300]}},
                  "y": {"field": "q", "type": "quantitative", "title": null, "scale": {"domain": [0, 2500]}, "axis": {"values": [0, 500, 1000, 1500, 2000, 2500]}},
                  "color": {"field": "k", "type": "nominal", "title": null, "scale": {"domain": ["T", "C", "G", "M", "O", "A"]}}},
     "layer": [{"transform": [{"fold": ["C", "G", "M", "O", "A"], "as": ["k", "q"]}], "mark": {"type": "line", "clip": true}},
               {"transform": [{"fold": ["T"], "as": ["k", "q"]}], "mark": {"type": "line", "clip": true, "strokeWidth": 3.5, "strokeDash": [6, 4]}}]},
    {"title": "g: Cumberland", "transform": [{"filter": "datum.p=='g'"}],
     "encoding": {"x": {"field": "t", "type": "quantitative", "title": null, "scale": {"domain": [0, 163]}, "axis": {"values": [0, 40, 80, 120, 160]}},
                  "y": {"field": "q", "type": "quantitative", "title": null, "scale": {"domain": [0, 2500]}, "axis": {"values": [0, 500, 1000, 1500, 2000, 2500]}},
                  "color": {"field": "k", "type": "nominal", "title": null, "scale": {"domain": ["T", "C", "G", "M", "O", "A"]}}},
     "layer": [{"transform": [{"fold": ["C", "G", "M", "O", "A"], "as": ["k", "q"]}], "mark": {"type": "line", "clip": true}},
               {"transform": [{"fold": ["T"], "as": ["k", "q"]}], "mark": {"type": "line", "clip": true, "strokeWidth": 3.5, "strokeDash": [6, 4]}}]},
    {"title": "h: Kanawha", "transform": [{"filter": "datum.p=='h'"}],
     "encoding": {"x": {"field": "t", "type": "quantitative", "title": null, "scale": {"domain": [0, 163]}, "axis": {"values": [0, 40, 80, 120, 160]}},
                  "y": {"field": "q", "type": "quantitative", "title": null, "scale": {"domain": [0, 2500]}, "axis": {"values": [0, 500, 1000, 1500, 2000, 2500]}},
                  "color": {"field": "k", "type": "nominal", "title": null, "scale": {"domain": ["T", "C", "G", "M", "O", "A"]}}},
     "layer": [{"transform": [{"fold": ["C", "G", "M", "O", "A"], "as": ["k", "q"]}], "mark": {"type": "line", "clip": true}},
               {"transform": [{"fold": ["T"], "as": ["k", "q"]}], "mark": {"type": "line", "clip": true, "strokeWidth": 3.5, "strokeDash": [6, 4]}}]},
    {"title": "i: Sacramento - upstream", "transform": [{"filter": "datum.p=='i'"}],
     "encoding": {"x": {"field": "t", "type": "quantitative", "title": null, "scale": {"domain": [-10, 312]}, "axis": {"values": [0, 100, 200, 300]}},
                  "y": {"field": "q", "type": "quantitative", "title": "Discharge, m³s⁻¹", "scale": {"domain": [0, 12000]}, "axis": {"values": [0, 2000, 4000, 6000, 8000, 10000, 12000], "titleX": -30}},
                  "color": {"field": "k", "type": "nominal", "title": null, "scale": {"domain": ["T", "C", "G", "M", "O", "A"]}}},
     "layer": [{"transform": [{"fold": ["C", "G", "M", "O", "A"], "as": ["k", "q"]}], "mark": {"type": "line", "clip": true}},
               {"transform": [{"fold": ["T"], "as": ["k", "q"]}], "mark": {"type": "line", "clip": true, "strokeWidth": 3.5, "strokeDash": [6, 4]}}]},
    {"title": "j: Sacramento - downstream", "transform": [{"filter": "datum.p=='j'"}],
     "encoding": {"x": {"field": "t", "type": "quantitative", "title": null, "scale": {"domain": [0, 160]}, "axis": {"values": [0, 40, 80, 120, 160]}},
                  "y": {"field": "q", "type": "quantitative", "title": null, "scale": {"domain": [0, 4500]}, "axis": {"values": [0, 1000, 2000, 3000, 4000]}},
                  "color": {"field": "k", "type": "nominal", "title": null, "scale": {"domain": ["T", "C", "G", "M", "O", "A"]}}},
     "layer": [{"transform": [{"fold": ["C", "G", "M", "O", "A"], "as": ["k", "q"]}], "mark": {"type": "line", "clip": true}},
               {"transform": [{"fold": ["T"], "as": ["k", "q"]}], "mark": {"type": "line", "clip": true, "strokeWidth": 3.5, "strokeDash": [6, 4]}}]},
    {"title": "k: Connecticut", "transform": [{"filter": "datum.p=='k'"}],
     "encoding": {"x": {"field": "t", "type": "quantitative", "title": null, "scale": {"domain": [0, 215]}, "axis": {"values": [0, 50, 100, 150, 200]}},
                  "y": {"field": "q", "type": "quantitative", "title": null, "scale": {"domain": [0, 10000]}, "axis": {"values": [0, 2000, 4000, 6000, 8000, 10000]}},
                  "color": {"field": "k", "type": "nominal", "title": null, "scale": {"domain": ["T", "C", "G", "M", "O", "A"]}}},
     "layer": [{"transform": [{"fold": ["C", "G", "M", "O", "A"], "as": ["k", "q"]}], "mark": {"type": "line", "clip": true}},
               {"transform": [{"fold": ["T"], "as": ["k", "q"]}], "mark": {"type": "line", "clip": true, "strokeWidth": 3.5, "strokeDash": [6, 4]}}]},
    {"transform": [{"filter": "false"}], "view": {"stroke": null},
     "mark": {"type": "point"},
     "encoding": {"x": {"field": "t", "type": "quantitative", "axis": null}, "y": {"field": "T", "type": "quantitative", "axis": null}}},
    {"title": "l: Wabash", "transform": [{"filter": "datum.p=='l'"}],
     "encoding": {"x": {"field": "t", "type": "quantitative", "title": null, "scale": {"domain": [0, 163]}, "axis": {"values": [0, 40, 80, 120, 160]}},
                  "y": {"field": "q", "type": "quantitative", "title": "Discharge, m³s⁻¹", "scale": {"domain": [0, 10000]}, "axis": {"values": [0, 2000, 4000, 6000, 8000, 10000], "titleX": -30}},
                  "color": {"field": "k", "type": "nominal", "title": null, "scale": {"domain": ["T", "C", "G", "M", "O", "A"]}}},
     "layer": [{"transform": [{"fold": ["C", "G", "M", "O", "A"], "as": ["k", "q"]}], "mark": {"type": "line", "clip": true}},
               {"transform": [{"fold": ["T"], "as": ["k", "q"]}], "mark": {"type": "line", "clip": true, "strokeWidth": 3.5, "strokeDash": [6, 4]}}]},
    {"title": "m: Ohio", "transform": [{"filter": "datum.p=='m'"}],
     "encoding": {"x": {"field": "t", "type": "quantitative", "title": null, "scale": {"domain": [0, 215]}, "axis": {"values": [0, 50, 100, 150, 200]}},
                  "y": {"field": "q", "type": "quantitative", "title": null, "scale": {"domain": [0, 1500]}, "axis": {"values": [0, 500, 1000, 1500], "labelExpr": "datum.value==1500?'15000':datum.label"}},
                  "color": {"field": "k", "type": "nominal", "title": null, "scale": {"domain": ["T", "C", "G", "M", "O", "A"]}}},
     "layer": [{"transform": [{"fold": ["C", "G", "M", "O", "A"], "as": ["k", "q"]}], "mark": {"type": "line", "clip": true}},
               {"transform": [{"fold": ["T"], "as": ["k", "q"]}], "mark": {"type": "line", "clip": true, "strokeWidth": 3.5, "strokeDash": [6, 4]}}]},
    {"title": "n: Mississippi - upstream", "transform": [{"filter": "datum.p=='n'"}],
     "encoding": {"x": {"field": "t", "type": "quantitative", "title": null, "scale": {"domain": [0, 163]}, "axis": {"values": [0, 40, 80, 120, 160]}},
                  "y": {"field": "q", "type": "quantitative", "title": null, "scale": {"domain": [0, 10000]}, "axis": {"values": [0, 2000, 4000, 6000, 8000, 10000]}},
                  "color": {"field": "k", "type": "nominal", "title": null, "scale": {"domain": ["T", "C", "G", "M", "O", "A"]}}},
     "layer": [{"transform": [{"fold": ["C", "G", "M", "O", "A"], "as": ["k", "q"]}], "mark": {"type": "line", "clip": true}},
               {"transform": [{"fold": ["T"], "as": ["k", "q"]}], "mark": {"type": "line", "clip": true, "strokeWidth": 3.5, "strokeDash": [6, 4]}}]},
    {"title": "o: Mississippi - downstream", "transform": [{"filter": "datum.p=='o'"}],
     "encoding": {"x": {"field": "t", "type": "quantitative", "title": null, "scale": {"domain": [0, 163]}, "axis": {"values": [0, 40, 80, 120, 160]}},
                  "y": {"field": "q", "type": "quantitative", "title": null, "scale": {"domain": [0, 45000]}, "axis": {"values": [0, 10000, 20000, 30000, 40000]}},
                  "color": {"field": "k", "type": "nominal", "title": null, "scale": {"domain": ["T", "C", "G", "M", "O", "A"]}}},
     "layer": [{"transform": [{"fold": ["C", "G", "M", "O", "A"], "as": ["k", "q"]}], "mark": {"type": "line", "clip": true}},
               {"transform": [{"fold": ["T"], "as": ["k", "q"]}], "mark": {"type": "line", "clip": true, "strokeWidth": 3.5, "strokeDash": [6, 4]}}]},
    {"title": "p: Saint Laurence - upstream", "transform": [{"filter": "datum.p=='p'"}],
     "encoding": {"x": {"field": "t", "type": "quantitative", "title": "Time, days", "scale": {"domain": [0, 140]}, "axis": {"values": [0, 20, 40, 60, 80, 100, 120, 140]}},
                  "y": {"field": "q", "type": "quantitative", "title": "Discharge, m³s⁻¹", "scale": {"domain": [0, 25000]}, "axis": {"values": [0, 5000, 10000, 15000, 20000, 25000], "titleX": -30}},
                  "color": {"field": "k", "type": "nominal", "title": null, "scale": {"domain": ["T", "C", "G", "M", "O", "A"]}}},
     "layer": [{"transform": [{"fold": ["C", "G", "M", "O", "A"], "as": ["k", "q"]}], "mark": {"type": "line", "clip": true}},
               {"transform": [{"fold": ["T"], "as": ["k", "q"]}], "mark": {"type": "line", "clip": true, "strokeWidth": 3.5, "strokeDash": [6, 4]}}]},
    {"title": "q: Saint Laurence - downstream", "transform": [{"filter": "datum.p=='q'"}],
     "encoding": {"x": {"field": "t", "type": "quantitative", "title": "Time, days", "scale": {"domain": [0, 140]}, "axis": {"values": [0, 20, 40, 60, 80, 100, 120, 140]}},
                  "y": {"field": "q", "type": "quantitative", "title": null, "scale": {"domain": [0, 50000]}, "axis": {"values": [0, 10000, 20000, 30000, 40000, 50000]}},
                  "color": {"field": "k", "type": "nominal", "title": null, "scale": {"domain": ["T", "C", "G", "M", "O", "A"]}}},
     "layer": [{"transform": [{"fold": ["C", "G", "M", "O", "A"], "as": ["k", "q"]}], "mark": {"type": "line", "clip": true}},
               {"transform": [{"fold": ["T"], "as": ["k", "q"]}], "mark": {"type": "line", "clip": true, "strokeWidth": 3.5, "strokeDash": [6, 4]}}]},
    {"title": "r: Po", "transform": [{"filter": "datum.p=='r'"}],
     "encoding": {"x": {"field": "t", "type": "quantitative", "title": "Time, days", "scale": {"domain": [0, 365]}, "axis": {"values": [0, 100, 200, 300]}},
                  "y": {"field": "q", "type": "quantitative", "title": null, "scale": {"domain": [0, 30000]}, "axis": {"values": [0, 5000, 10000, 15000, 20000, 25000, 30000]}},
                  "color": {"field": "k", "type": "nominal", "title": null, "scale": {"domain": ["T", "C", "G", "M", "O", "A"]}}},
     "layer": [{"transform": [{"fold": ["C", "G", "M", "O", "A"], "as": ["k", "q"]}], "mark": {"type": "line", "clip": true}},
               {"transform": [{"fold": ["T"], "as": ["k", "q"]}], "mark": {"type": "line", "clip": true, "strokeWidth": 3.5, "strokeDash": [6, 4]}}]},
    {"title": "s: Ganges", "transform": [{"filter": "datum.p=='s'"}],
     "encoding": {"x": {"field": "t", "type": "quantitative", "title": "Time, days", "scale": {"domain": [0, 365]}, "axis": {"values": [0, 100, 200, 300]}},
                  "y": {"field": "q", "type": "quantitative", "title": null, "scale": {"domain": [0, 80000]}, "axis": {"values": [0, 20000, 40000, 60000, 80000]}},
                  "color": {"field": "k", "type": "nominal", "title": null, "scale": {"domain": ["T", "C", "G", "M", "O", "A"]}}},
     "layer": [{"transform": [{"fold": ["C", "G", "M", "O", "A"], "as": ["k", "q"]}], "mark": {"type": "line", "clip": true}},
               {"transform": [{"fold": ["T"], "as": ["k", "q"]}], "mark": {"type": "line", "clip": true, "strokeWidth": 3.5, "strokeDash": [6, 4]}}]}
  ],
  "columns": 4,
  "spacing": {"row": 27.5, "column": 38},
  "bounds": "flush",
  "config": {
    "font": "Liberation Sans",
    "numberFormat": "d",
    "view": {"continuousWidth": 148, "continuousHeight": 162, "stroke": "#262626", "strokeWidth": 1},
    "range": {"category": ["#000000", "#d95319", "#edb120", "#7e2f8e", "#77ac30", "#4dbeee"]},
    "line": {"strokeWidth": 2},
    "axis": {"domain": false, "grid": true, "gridColor": "#e4e4e4", "tickColor": "#262626", "tickSize": -3, "labelPadding": 3, "labelFontSize": 9.5, "labelColor": "#262626", "labelFlush": false, "labelOverlap": false, "titleFontSize": 10.5, "titleFontWeight": "normal", "titleColor": "#262626"},
    "axisX": {"titlePadding": 1},
    "title": {"fontSize": 9.5, "fontWeight": "bold", "color": "#000000", "offset": 1},
    "legend": {"orient": "none", "legendX": 595, "legendY": 429, "strokeColor": "#262626", "fillColor": "#ffffff", "padding": 1.5, "labelFontSize": 9.5, "labelColor": "#000000", "symbolType": "stroke", "symbolSize": 784, "symbolStrokeWidth": 2, "clipHeight": 9.8, "rowPadding": 0, "labelOffset": 1}
  }
}
